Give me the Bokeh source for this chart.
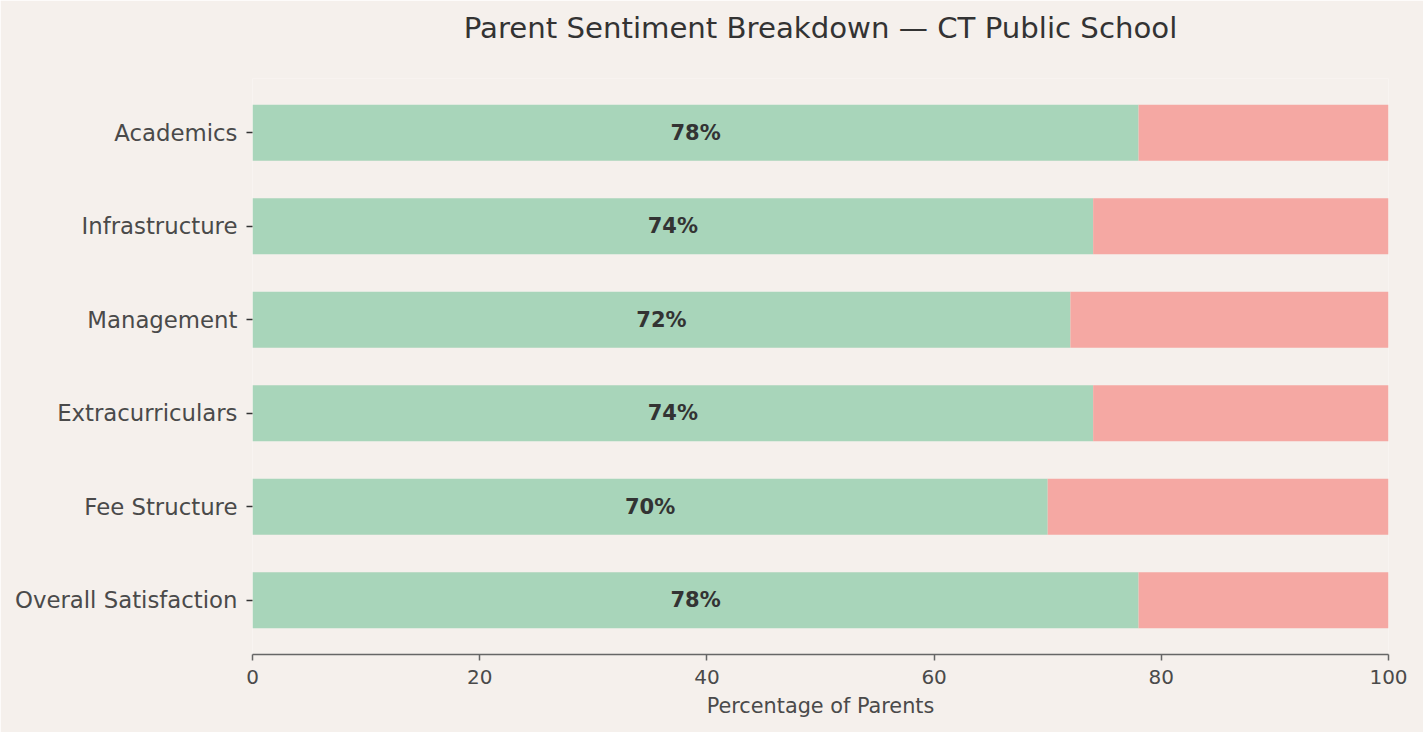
from bokeh.plotting import figure
from bokeh.models import Range1d, FixedTicker, ColumnDataSource, Title
from bokeh.core.properties import value
from bokeh.embed import file_html
from bokeh.resources import INLINE

title_text = "Parent Sentiment Breakdown \u2014 CT Public School"
categories = ["Academics", "Infrastructure", "Management", "Extracurriculars",
              "Fee Structure", "Overall Satisfaction"]
positive = [78, 74, 72, 74, 70, 78]
x_ticks = [0, 20, 40, 60, 80, 100]

BG = "#f5f0ec"
GREEN = "#a8d5ba"
RED = "#f5a8a3"
FONT = "DejaVu Sans"

n = len(categories)
ypos = [n - 1 - i for i in range(n)]
negative = [100 - v for v in positive]
src = ColumnDataSource(dict(
    y=ypos, pos=positive, total=[p + q for p, q in zip(positive, negative)],
    mid=[v / 2 for v in positive], lbl=[f"{v}%" for v in positive],
))

p = figure(width=1423, height=732, output_backend="svg", toolbar_location=None,
           x_range=Range1d(0, 100), y_range=Range1d(-0.58, n - 1 + 0.58),
           min_border_left=252, min_border_right=35, min_border_top=78,
           min_border_bottom=78)
p.background_fill_color = BG
p.border_fill_color = BG
p.outline_line_color = None
p.grid.visible = False

p.hbar(y="y", left=0, right="pos", height=0.6, source=src,
       fill_color=GREEN, line_color=None)
p.hbar(y="y", left="pos", right="total", height=0.6, source=src,
       fill_color=RED, line_color=None)
p.text(x="mid", y="y", text="lbl", source=src, text_align="center",
       text_baseline="middle", text_font=value(FONT), text_font_style="bold",
       text_font_size="21px", text_color="#333333")

p.title = Title(text=title_text, align="center", text_font=FONT,
                text_font_size="29.2px", text_font_style="normal",
                text_color="#333333", standoff=0)
spacer = Title(text=" ", align="center", text_font=FONT,
               text_font_size="27.5px", standoff=0)
p.add_layout(spacer, "above")

ya = p.yaxis[0]
ya.ticker = FixedTicker(ticks=ypos)
ya.major_label_overrides = {y: c for y, c in zip(ypos, categories)}
ya.axis_line_alpha = 0
ya.major_tick_in = 0
ya.major_tick_out = 6
ya.major_tick_line_color = "#333333"
ya.major_tick_line_width = 1.5
ya.minor_tick_line_color = None
ya.major_label_standoff = 9
ya.major_label_text_font = FONT
ya.major_label_text_font_size = "22.8px"
ya.major_label_text_color = "#4a4a4a"

xa = p.xaxis[0]
xa.ticker = FixedTicker(ticks=x_ticks)
xa.axis_line_color = "#666666"
xa.axis_line_width = 1.5
xa.major_tick_in = 0
xa.major_tick_out = 6
xa.major_tick_line_color = "#666666"
xa.major_tick_line_width = 1.5
xa.minor_tick_line_color = None
xa.major_label_standoff = 9
xa.major_label_text_font = FONT
xa.major_label_text_font_size = "20px"
xa.major_label_text_color = "#4a4a4a"
xa.axis_label = "Percentage of Parents"
xa.axis_label_text_font = FONT
xa.axis_label_text_font_style = "normal"
xa.axis_label_text_font_size = "20.8px"
xa.axis_label_text_color = "#4a4a4a"
xa.axis_label_standoff = 7

open("out.html", "w").write(file_html(p, INLINE))
